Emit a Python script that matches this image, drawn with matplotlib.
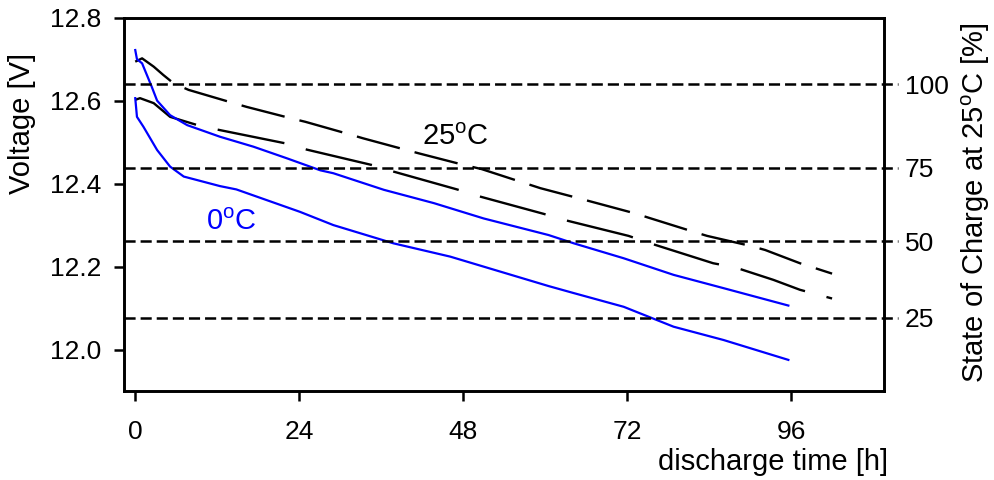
import matplotlib
matplotlib.use("Agg")
import matplotlib.pyplot as plt
import matplotlib.transforms as mtransforms

plt.rcParams['font.family'] = ['Liberation Sans', 'DejaVu Sans']
plt.rcParams['mathtext.fontset'] = 'custom'
plt.rcParams['mathtext.rm'] = 'Liberation Sans'
plt.rcParams['mathtext.it'] = 'Liberation Sans:italic'
plt.rcParams['lines.scale_dashes'] = False

# 25 C curves (black)
t_black_hi = [0, 1.0, 2.7, 4.1, 5.6, 7.8, 14.4, 16.3, 22.9, 24.9, 30.9, 33.4, 39.7, 41.5,
              48.1, 50.7, 56.3, 59.3, 64.6, 67.1, 73.2, 75.1, 81.7, 83.7, 90.0, 92.2, 97.3, 102]
v_black_hi = [12.694, 12.702, 12.682, 12.662, 12.642, 12.626, 12.594, 12.585, 12.557, 12.549,
              12.521, 12.509, 12.481, 12.473, 12.445, 12.435, 12.405, 12.389, 12.366, 12.355,
              12.328, 12.318, 12.284, 12.274, 12.250, 12.240, 12.208, 12.183]

t_black_lo = [0, 0.7, 2.7, 5.1, 9.5, 12.4, 22.0, 25.1, 34.6, 37.8, 47.1, 50.2, 59.8, 62.9,
              72.2, 75.4, 84.6, 87.8, 93.4, 97.3, 102]
v_black_lo = [12.602, 12.606, 12.594, 12.561, 12.539, 12.529, 12.497, 12.482, 12.445, 12.429,
              12.386, 12.370, 12.327, 12.312, 12.274, 12.256, 12.208, 12.198, 12.168, 12.144, 12.123]

# 0 C curves (blue)
t_blue_hi = [0, 0.25, 1.0, 2.4, 3.2, 5.1, 7.6, 12.4, 17.3, 22.2, 27.1, 29.0, 36.4, 43.7,
             51.0, 60.5, 64.2, 71.5, 78.8, 86.1, 95.6]
v_blue_hi = [12.722, 12.70, 12.69, 12.634, 12.60, 12.565, 12.541, 12.513, 12.489, 12.461,
             12.432, 12.425, 12.385, 12.353, 12.316, 12.276, 12.256, 12.220, 12.180, 12.148, 12.106]

t_blue_lo = [0, 0.25, 1.2, 3.2, 5.1, 7.1, 12.4, 14.8, 24.1, 29.0, 37.8, 46.1, 53.4, 60.5,
             64.2, 71.5, 78.8, 86.1, 95.6]
v_blue_lo = [12.606, 12.561, 12.537, 12.481, 12.441, 12.417, 12.394, 12.386, 12.332, 12.300,
             12.256, 12.224, 12.188, 12.153, 12.136, 12.103, 12.055, 12.023, 11.975]

# state of charge levels and the voltage they sit at
soc_levels = [100, 75, 50, 25]
soc_volts = [12.640, 12.438, 12.261, 12.076]

x_ticks = [0, 24, 48, 72, 96]
y_ticks = [12.0, 12.2, 12.4, 12.6, 12.8]

fig = plt.figure(figsize=(9.94, 4.8), dpi=100)
W, H = 994, 480
ax = fig.add_axes([123.5 / W, 1 - 391 / H, (884 - 123.5) / W, (391 - 17.7) / H])

ax.plot(t_black_hi, v_black_hi, color='black', lw=1.7, linestyle=(0, (32, 11)))
ax.plot(t_black_lo, v_black_lo, color='black', lw=1.7, linestyle=(0, (49, 16)))
ax.plot(t_blue_hi, v_blue_hi, color='#0000ff', lw=1.6)
ax.plot(t_blue_lo, v_blue_lo, color='#0000ff', lw=1.6)

# dashed state of charge guides, running a bit past the right spine
trans = mtransforms.blended_transform_factory(ax.transAxes, ax.transData)
for v in soc_volts:
    ax.plot([0, 1.018], [v, v], transform=trans, color='black', lw=1.8,
            linestyle=(0, (8, 3.6)), clip_on=False)

ax.set_xlim(-1.72, 109.6)
ax.set_ylim(11.90, 12.8)
ax.set_xticks(x_ticks)
ax.set_yticks(y_ticks)
ax.set_yticklabels([f'{y:.1f}' for y in y_ticks])
for s in ax.spines.values():
    s.set_linewidth(1.9)
ax.tick_params(axis='y', direction='out', length=7, width=1.8, pad=9, labelsize=19)
ax.tick_params(axis='x', direction='out', length=7, width=1.8, pad=14, labelsize=19)

ax.text(41.96, 12.493, r'25$^{\mathrm{o}}$C', fontsize=21, ha='left', va='baseline')
ax.text(10.4, 12.288, r'0$^{\mathrm{o}}$C', fontsize=21, ha='left', va='baseline', color='#0000ff')

ax2 = ax.twinx()
ax2.set_ylim(ax.get_ylim())
ax2.set_yticks(soc_volts)
ax2.set_yticklabels([str(s) for s in soc_levels])
ax2.tick_params(axis='y', length=0, pad=15, labelsize=19)
for s in ax2.spines.values():
    s.set_linewidth(1.9)

fig.text(22.5 / W, 1 - 123 / H, 'Voltage [V]', rotation=90, fontsize=21,
         ha='center', va='center')
fig.text(976 / W, 1 - 203 / H, r'State of Charge at 25$^{\mathrm{o}}$C [%]', rotation=90,
         fontsize=21, ha='center', va='center')
fig.text(888 / W, 1 - 461.5 / H, 'discharge time [h]', fontsize=21, ha='right', va='center')

fig.savefig('out.png', dpi=100)
